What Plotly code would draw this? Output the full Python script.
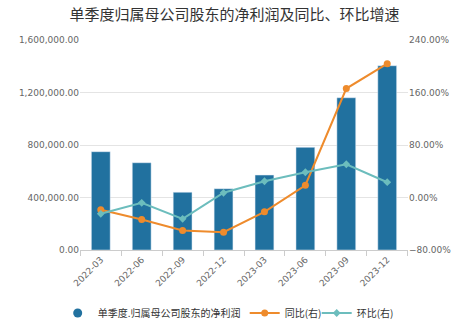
import plotly.graph_objects as go

categories = ["2022-03", "2022-06", "2022-09", "2022-12", "2023-03", "2023-06", "2023-09", "2023-12"]
net_profit = [749000, 665000, 440000, 467000, 571000, 782000, 1160000, 1404000]
yoy = [-18.7, -33.5, -50.3, -52.9, -21.8, 18.7, 166.0, 204.0]
qoq = [-24.8, -8.1, -32.5, 7.2, 24.8, 38.5, 50.7, 23.3]

BAR = "#21719f"
ORANGE = "#ee8b2c"
TEAL = "#6cbdbd"
TICKFONT = dict(family="DejaVu Sans", size=9, color="#666666")
CJK = "Noto Sans CJK SC"

fig = go.Figure()
fig.add_trace(go.Bar(x=categories, y=net_profit, marker_color=BAR, showlegend=False,
                     name="单季度.归属母公司股东的净利润"))
fig.add_trace(go.Scatter(x=[None], y=[None], mode="markers", name="单季度.归属母公司股东的净利润",
                         legendwidth=142,
                         marker=dict(symbol="circle", size=9, color=BAR)))
fig.add_trace(go.Scatter(x=categories, y=yoy, yaxis="y2", mode="lines+markers", name="同比(右)",
                         legendwidth=27,
                         line=dict(color=ORANGE, width=2), marker=dict(symbol="circle", size=7, color=ORANGE)))
fig.add_trace(go.Scatter(x=categories, y=qoq, yaxis="y2", mode="lines+markers", name="环比(右)",
                         line=dict(color=TEAL, width=2), marker=dict(symbol="diamond", size=6, color=TEAL)))

fig.update_layout(
    width=469, height=323,
    margin=dict(l=80, r=61, t=40, b=73, autoexpand=False),
    paper_bgcolor="white", plot_bgcolor="white",
    bargap=0.54,
    title=dict(text="单季度归属母公司股东的净利润及同比、环比增速", x=0.5, xanchor="center",
               y=0.955, yanchor="middle", font=dict(family=CJK, size=15, color="#333333")),
    xaxis=dict(type="category", tickangle=-45, tickfont=TICKFONT, showline=True, linecolor="#cccccc",
               ticks="outside", ticklen=5, tickcolor="#cccccc", tickson="boundaries", showgrid=False),
    yaxis=dict(range=[0, 1600000], dtick=400000, tickformat=",.2f", tickfont=TICKFONT,
               gridcolor="#e4e4e4", zeroline=False, showline=False),
    yaxis2=dict(range=[-80, 240], dtick=80, tickformat=".2f", ticksuffix="%", tickfont=TICKFONT,
                overlaying="y", side="right", showgrid=False, zeroline=False, showline=False),
    legend=dict(orientation="h", x=-0.068, xanchor="left", y=-0.3, yanchor="middle",
                font=dict(family=CJK, size=10, color="#333333"),
                itemwidth=30, tracegroupgap=0),
)

fig.write_html("out.html")
